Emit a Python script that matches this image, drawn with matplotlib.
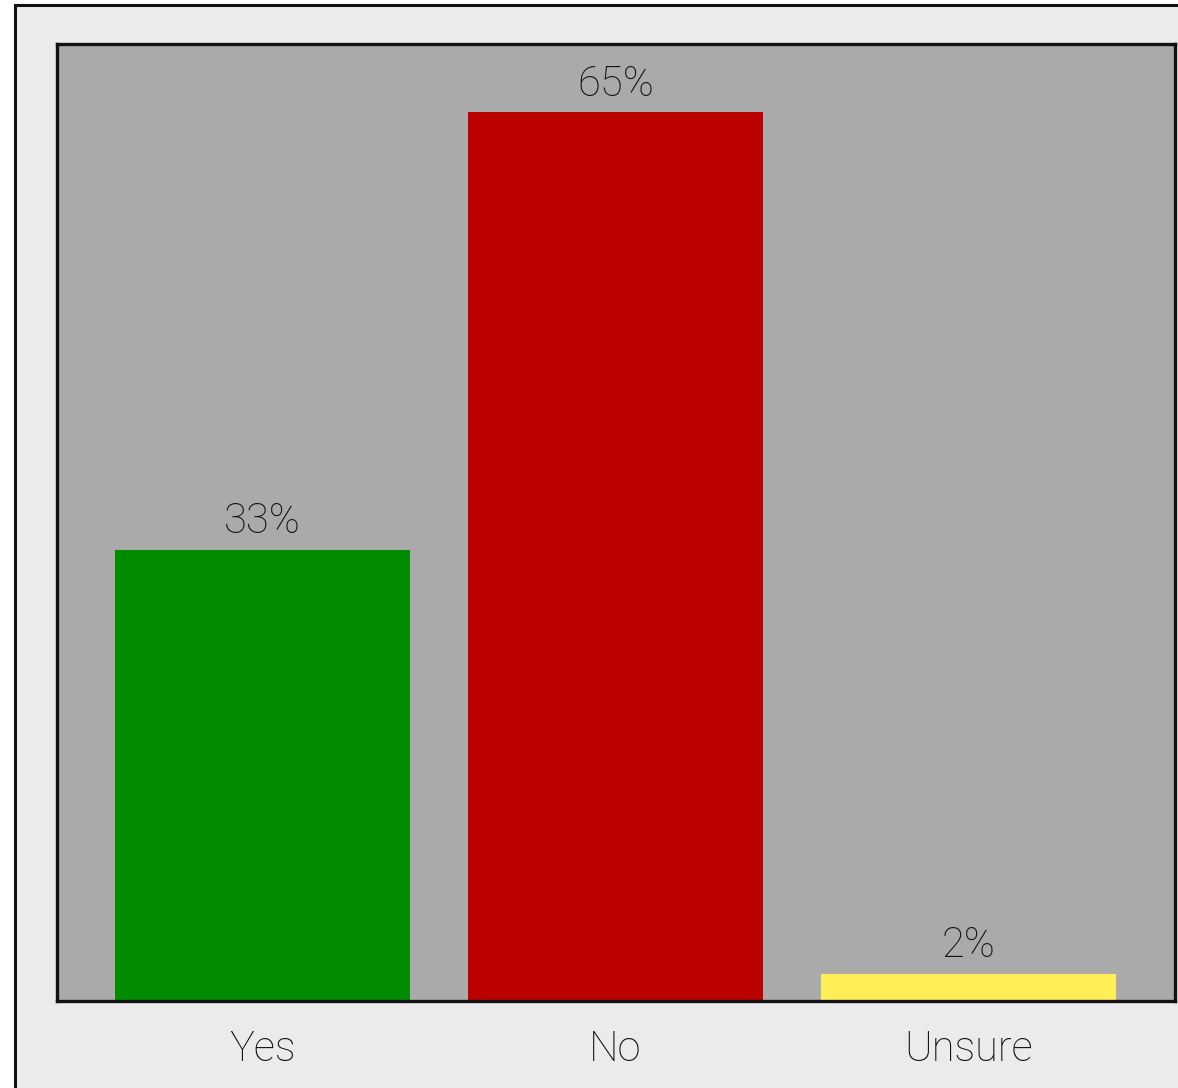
import matplotlib.pyplot as plt
from matplotlib.patches import Rectangle

# survey answers
answers = ["Yes", "No", "Unsure"]
shares = [33, 65, 2]
bar_colors = ["#008b00", "#bb0000", "#ffee55"]

plt.rcParams['font.family'] = ['Roboto', 'DejaVu Sans']

fig = plt.figure(figsize=(11.78, 10.88), dpi=100)
fig.patch.set_facecolor("white")

# light grey panel behind the chart, running off the right and bottom edges
W, H = 1178, 1088
fig.patches.append(Rectangle((14.5 / W, -0.05), 1.1, (H - 5) / H + 0.05,
                             transform=fig.transFigure, facecolor="#ebebeb",
                             edgecolor="#111111", linewidth=2.2, zorder=-1))

ax = fig.add_axes([57 / W, (H - 1001) / H, (1175 - 57) / W, (1001 - 44) / H])
ax.set_facecolor("#aaaaaa")

x = range(len(answers))
bars = ax.bar(x, shares, width=0.836, color=bar_colors, zorder=2)
for b, v in zip(bars, shares):
    ax.text(b.get_x() + b.get_width() / 2, v + 0.55, f"{v}%", ha="center",
            va="bottom", fontsize=30, fontweight="light", color="#111111")

ax.set_xlim(-0.582, 2.585)
ax.set_ylim(0, 70)
ax.set_yticks([])
ax.set_xticks(list(x))
ax.set_xticklabels(answers, fontsize=30, fontweight="light", color="#111111")
ax.tick_params(axis="x", length=0, pad=20)
for s in ax.spines.values():
    s.set_linewidth(2.4)
    s.set_color("#111111")

fig.savefig("out.png", dpi=100)
